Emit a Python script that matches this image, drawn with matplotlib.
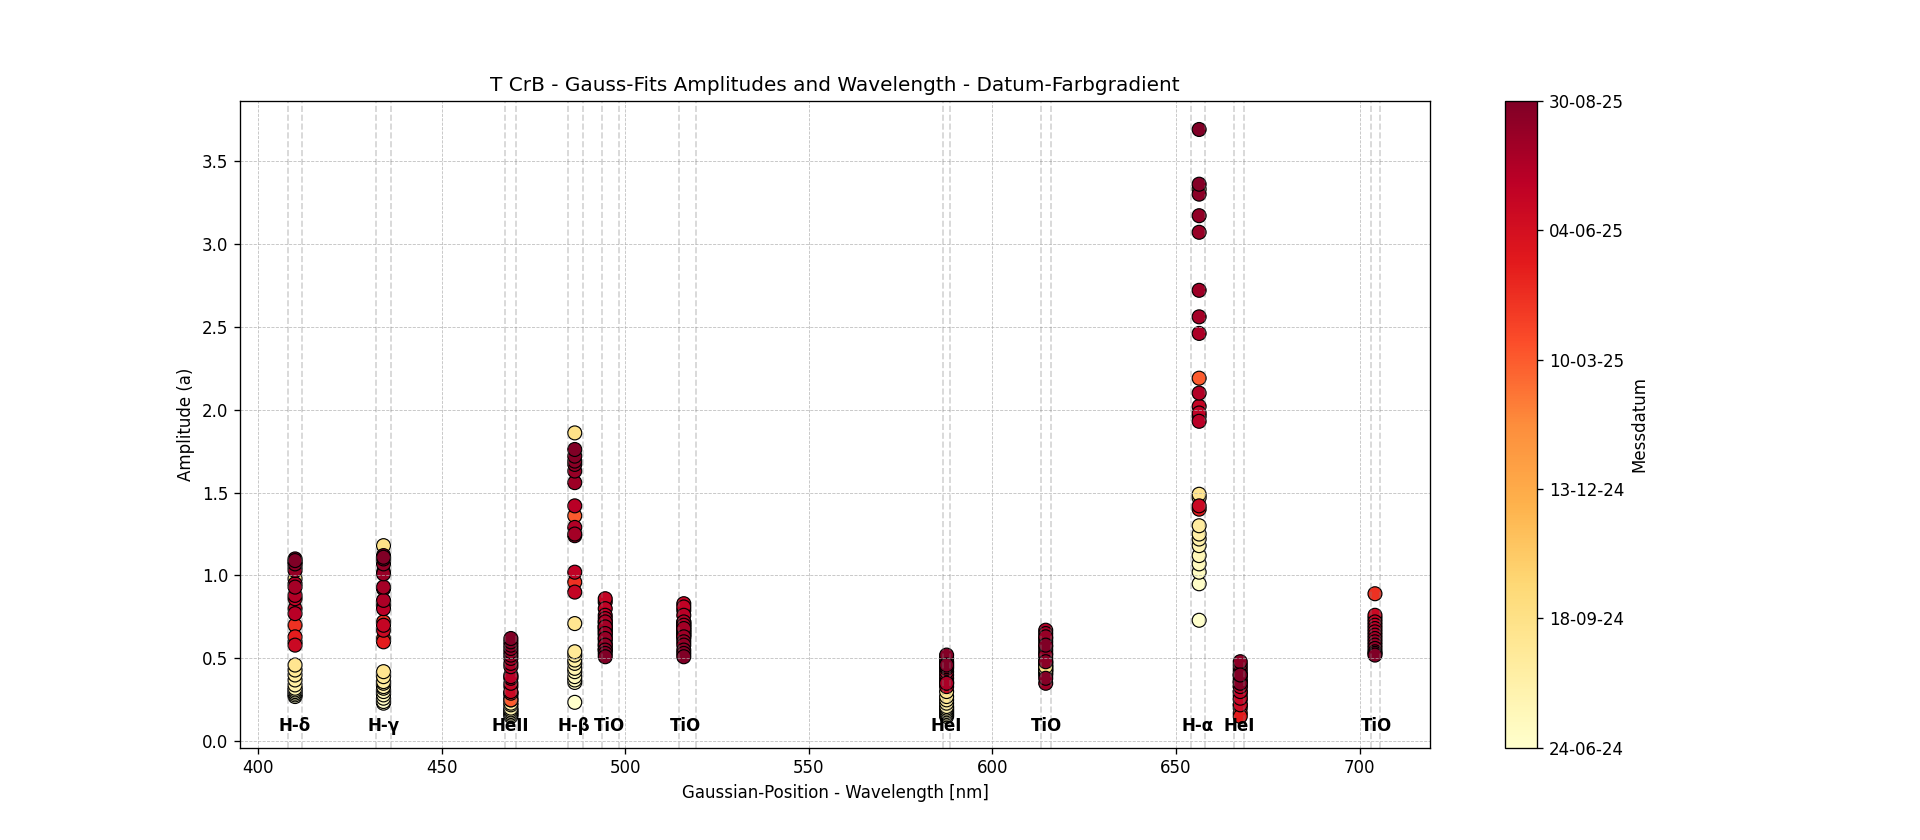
import numpy as np
import pandas as pd
import matplotlib
matplotlib.use('Agg')
import matplotlib.pyplot as plt
import matplotlib.dates as mdates

nan = np.nan

# Messdaten (Beobachtungsnächte)
dates = ['2024-06-24', '2024-06-30', '2024-07-06', '2024-07-13', '2024-07-20', '2024-07-28',
         '2024-08-04', '2024-08-12', '2024-08-20', '2024-08-29', '2024-09-07', '2024-09-18',
         '2025-03-10',
         '2025-04-20', '2025-05-12', '2025-06-18', '2025-06-26', '2025-07-03', '2025-07-10',
         '2025-07-16', '2025-07-22', '2025-07-28', '2025-08-03', '2025-08-09', '2025-08-14',
         '2025-08-19', '2025-08-25', '2025-08-30']

# Linien: Name, Label-Position, Fit-Position, Fenstergrenzen
line_names = ['H-δ', 'H-γ', 'HeII', 'H-β', 'TiO', 'TiO', 'HeI', 'TiO', 'H-α', 'HeI', 'TiO']
label_pos = [410.0, 434.0, 468.6, 486.0, 495.6, 516.4, 587.5, 614.6, 656.0, 667.2, 704.7]
fit_pos = [410.0, 434.1, 468.8, 486.2, 494.5, 515.9, 587.5, 614.5, 656.3, 667.5, 704.2]
window_lo = [408.2, 432.1, 467.3, 484.3, 493.6, 514.6, 586.6, 613.3, 654.1, 665.8, 703.0]
window_hi = [412.0, 436.2, 470.3, 488.4, 498.2, 519.1, 588.5, 615.9, 658.0, 668.5, 705.7]

# Amplituden je Linie (Reihenfolge wie dates)
amp_hd = [0.27, 0.28, 0.29, 0.30, 0.31, 0.32, 0.34, 0.37, 0.40, 0.43, 0.46, 0.98,
          0.60, 0.70, 0.63, 0.58, 0.80, 0.86, 0.77, 0.88, 0.95, 0.93, 1.05, 1.03, 1.08, 1.07, 1.10, 1.09]
amp_hg = [0.23, 0.24, 0.26, 0.28, 0.30, 0.32, 0.33, 0.35, 0.36, 0.39, 0.42, 1.18,
          0.62, 0.72, 0.60, 0.67, 0.70, 0.82, 0.80, 0.92, 0.85, 0.93, 1.02, 1.01, 1.07, 1.10, 1.12, 1.11]
amp_he2 = [0.15, 0.16, 0.17, 0.18, 0.19, 0.20, 0.22, 0.23, 0.25, 0.27, 0.29, 0.40,
           0.25, 0.29, 0.33, 0.30, 0.35, 0.38, 0.39, 0.45, 0.47, 0.50, 0.52, 0.54, 0.56, 0.58, 0.60, 0.62]
amp_hb = [0.235, 0.355, 0.37, 0.39, 0.42, 0.44, 0.47, 0.49, 0.52, 0.54, 0.71, 1.86,
          1.36, 0.96, nan, nan, 0.90, 1.02, 1.42, 1.29, 1.24, 1.25, 1.56, 1.63, 1.67, 1.69, 1.72, 1.76]
amp_tio1 = [0.55, 0.56, 0.58, 0.60, 0.62, 0.64, 0.66, 0.67, 0.68, 0.69, 0.70, 0.72,
            nan, nan, nan, 0.84, 0.86, 0.80, 0.76, 0.74, 0.72, 0.69, 0.65, 0.62, 0.58, 0.55, 0.53, 0.51]
amp_tio2 = [0.62, 0.64, 0.65, 0.66, 0.67, 0.68, 0.69, 0.70, 0.71, 0.72, 0.66, 0.64,
            nan, nan, nan, 0.79, 0.83, 0.81, 0.76, 0.72, 0.70, 0.68, 0.63, 0.60, 0.58, 0.55, 0.53, 0.51]
amp_he1a = [0.15, 0.16, 0.17, 0.18, 0.19, 0.20, 0.21, 0.23, 0.25, 0.27, 0.30, 0.35,
            nan, nan, nan, 0.33, 0.36, 0.38, 0.40, 0.42, 0.35, 0.44, 0.45, 0.47, 0.48, 0.50, 0.52, 0.46]
amp_tio3 = [0.40, 0.41, 0.42, 0.43, 0.44, 0.45, 0.46, 0.47, 0.48, 0.50, 0.43, 0.45,
            nan, nan, nan, 0.53, 0.55, 0.57, 0.60, 0.62, 0.67, 0.65, 0.35, 0.63, 0.52, 0.48, 0.38, 0.58]
amp_ha = [0.73, 0.95, 1.02, 1.07, 1.12, 1.18, 1.22, 1.25, 1.30, 1.47, 1.49, 3.33,
          2.19, 1.96, 1.40, 1.42, 2.02, 1.98, 1.93, 2.10, 2.46, 2.56, 2.72, 3.07, 3.17, 3.30, 3.36, 3.69]
amp_he1b = [0.40, 0.36, 0.33, 0.30, 0.28, 0.25, 0.22, 0.20, nan, nan, nan, nan,
            nan, 0.17, 0.15, 0.22, 0.26, 0.30, 0.33, 0.36, 0.38, 0.40, 0.42, 0.44, 0.46, 0.48, 0.35, 0.40]
amp_tio4 = [nan, nan, nan, nan, nan, nan, nan, nan, nan, nan, nan, nan,
            nan, 0.89, 0.74, 0.76, 0.72, 0.70, 0.68, 0.66, 0.64, 0.62, 0.60, 0.58, 0.56, 0.54, 0.53, 0.52]

amps = [amp_hd, amp_hg, amp_he2, amp_hb, amp_tio1, amp_tio2, amp_he1a, amp_tio3, amp_ha, amp_he1b, amp_tio4]

date_num = mdates.date2num(pd.to_datetime(dates))
vmin, vmax = date_num.min(), date_num.max()

fig, ax = plt.subplots(figsize=(16, 7), dpi=120)

for pos, amp in zip(fit_pos, amps):
    amp = np.array(amp)
    ok = ~np.isnan(amp)
    sc = ax.scatter(np.full(ok.sum(), pos), amp[ok], c=date_num[ok], cmap='YlOrRd',
                    vmin=vmin, vmax=vmax, s=70, edgecolors='k', linewidths=0.7)

# Fenstergrenzen
for lo, hi in zip(window_lo, window_hi):
    ax.axvline(lo, color='gray', linestyle='--', alpha=0.35, linewidth=1.0)
    ax.axvline(hi, color='gray', linestyle='--', alpha=0.35, linewidth=1.0)

for name, xp in zip(line_names, label_pos):
    ax.text(xp, 0.09, name, ha='center', va='center', fontsize=10, fontweight='bold')

ax.set_xlim(395.0, 719.3)
ax.set_ylim(-0.038, 3.863)
ax.grid(True, linestyle='--', linewidth=0.5, alpha=0.8)
ax.set_xlabel('Gaussian-Position - Wavelength [nm]')
ax.set_ylabel('Amplitude (a)')
ax.set_title('T CrB - Gauss-Fits Amplitudes and Wavelength - Datum-Farbgradient')

cbar = fig.colorbar(sc, ax=ax)
ticks = np.linspace(vmin, vmax, 6)
cbar.set_ticks(ticks)
cbar.set_ticklabels([mdates.num2date(t).strftime('%d-%m-%y') for t in ticks])
cbar.set_label('Messdatum')

fig.savefig('out.png', dpi=120)
